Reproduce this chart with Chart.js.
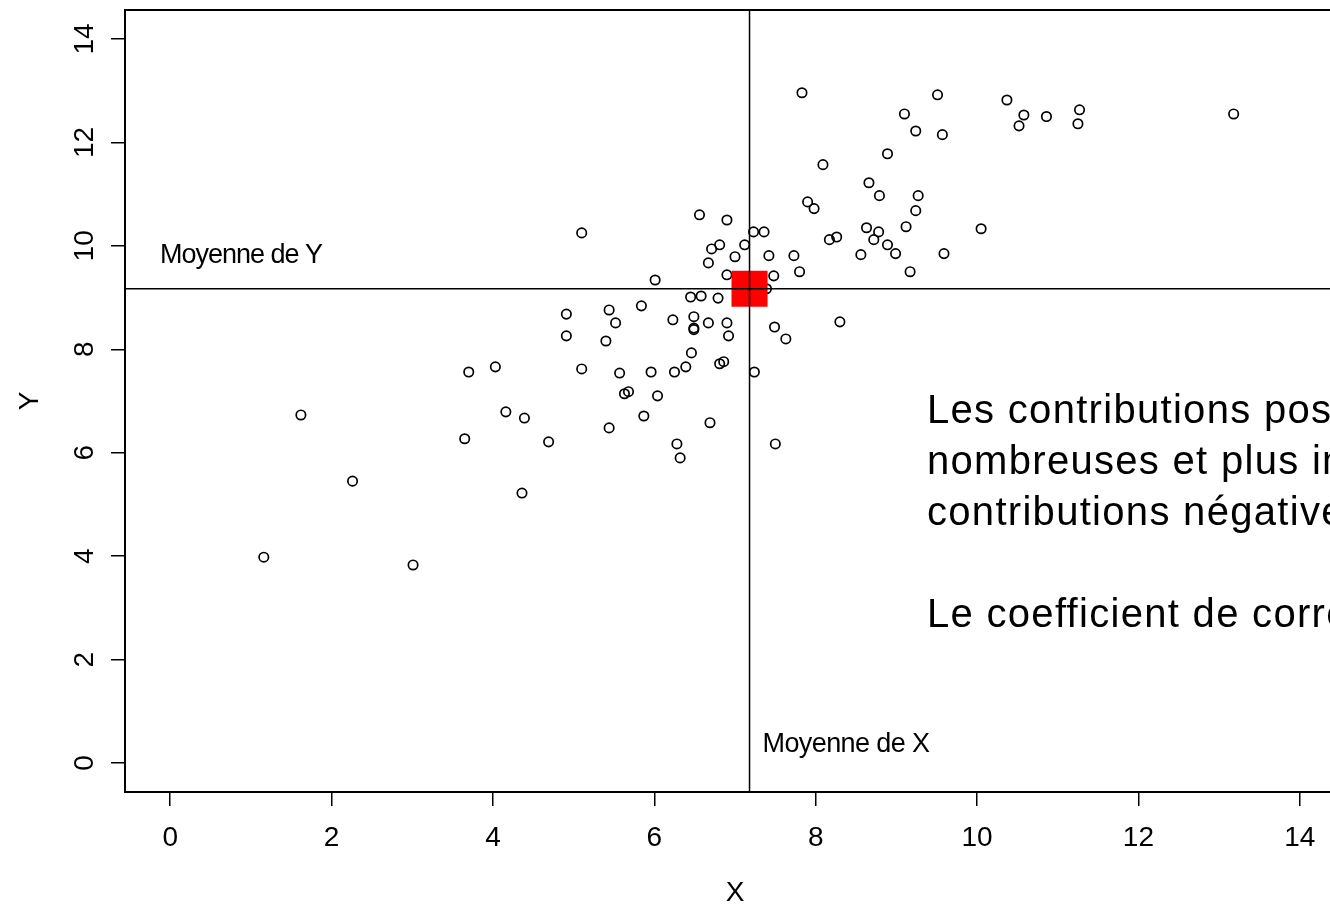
<!DOCTYPE html>
<html>
<head>
<meta charset="utf-8">
<script src="https://cdn.jsdelivr.net/npm/chart.js@4.4.0/dist/chart.umd.min.js"></script>
<style>
  html, body { margin: 0; padding: 0; overflow: hidden; background: #fff; }
  #wrap { width: 1330px; height: 906px; overflow: hidden; }
  canvas { display: block; }
</style>
</head>
<body>
<div id="wrap"><canvas id="nuage" width="1360" height="906"></canvas></div>
<script>
// nuage de points (X, Y)
const xValues = [
  1.16, 1.62, 2.26, 3.01, 3.65, 3.70, 4.03, 4.16, 4.36, 4.39,
  4.69, 4.91, 4.91, 5.10, 5.10, 5.40, 5.44, 5.44, 5.52, 5.57,
  5.63, 5.68, 5.84, 5.87, 5.96, 6.01, 6.04, 6.23, 6.25, 6.28,
  6.32, 6.39, 6.45, 6.46, 6.49, 6.49, 6.49, 6.56, 6.58, 6.67,
  6.69, 6.67, 6.71, 6.79, 6.81, 6.81, 6.86, 6.90, 6.90, 6.92,
  6.90, 7.00, 7.12, 7.23, 7.24, 7.36, 7.39, 7.42, 7.48, 7.49,
  7.50, 7.63, 7.73, 7.80, 7.83, 7.90, 7.98, 8.09, 8.17, 8.26,
  8.30, 8.56, 8.63, 8.66, 8.72, 8.78, 8.79, 8.89, 8.89, 8.99,
  9.10, 9.12, 9.17, 9.24, 9.24, 9.27, 9.51, 9.57, 9.59, 10.05,
  10.37, 10.52, 10.58, 10.86, 11.25, 11.27, 13.18
]
const yValues = [
  3.98, 6.73, 5.45, 3.83, 6.27, 7.56, 7.66, 6.79, 5.22, 6.67,
  6.21, 8.68, 8.26, 10.25, 7.62, 8.16, 8.76, 6.48, 8.51, 7.54,
  7.14, 7.18, 8.84, 6.71, 7.56, 9.34, 7.10, 8.57, 7.56, 6.17,
  5.90, 7.66, 9.01, 7.93, 8.63, 8.41, 8.38, 10.60, 9.03, 8.51,
  6.58, 9.67, 9.94, 8.99, 10.02, 7.72, 7.76, 10.50, 8.51, 8.26,
  9.44, 9.79, 10.02, 10.27, 7.56, 10.27, 9.17, 9.81, 9.42, 8.43,
  6.17, 8.20, 9.81, 9.50, 12.96, 10.85, 10.72, 11.57, 10.12, 10.17,
  8.53, 9.83, 10.35, 11.22, 10.12, 10.27, 10.97, 10.02, 11.78, 9.85,
  12.55, 10.37, 9.50, 12.22, 10.68, 10.97, 12.92, 12.15, 9.85, 10.33,
  12.82, 12.32, 12.53, 12.50, 12.36, 12.63, 12.55
]
const meanX = 7.18
const meanY = 9.17
const axisTicks = [0, 2, 4, 6, 8, 10, 12, 14]
const axisMin = -0.56
const axisMax = 14.56
const noteLines = [
  "Les contributions positives sont plus",
  "nombreuses et plus importantes que les",
  "contributions négatives.",
  "",
  "Le coefficient de corrélation est positif."
]

const points = xValues.map((x, i) => ({ x: x, y: yValues[i] }))
const font = "'Liberation Sans', Arial, sans-serif"

// cadre, graduations de Y et textes
const decor = {
  id: "decor",
  afterDraw(chart) {
    const { ctx, chartArea: a, scales } = chart
    ctx.save()
    ctx.strokeStyle = "black"
    ctx.lineWidth = 2
    ctx.strokeRect(a.left, a.top, a.right - a.left, a.bottom - a.top)

    ctx.fillStyle = "black"
    ctx.font = "28px " + font
    ctx.textAlign = "center"
    ctx.textBaseline = "middle"
    scales.y.ticks.forEach(t => {
      ctx.save()
      ctx.translate(a.left - 40, scales.y.getPixelForValue(t.value))
      ctx.rotate(-Math.PI / 2)
      ctx.fillText(String(t.value), 0, 0)
      ctx.restore()
    })

    const mx = scales.x.getPixelForValue(meanX)
    const my = scales.y.getPixelForValue(meanY)
    ctx.textAlign = "left"
    ctx.textBaseline = "alphabetic"
    ctx.font = "27px " + font
    ctx.letterSpacing = "-1px"
    ctx.fillText("Moyenne de Y", a.left + 35, my - 26)
    ctx.letterSpacing = "-0.6px"
    ctx.fillText("Moyenne de X", mx + 13, a.bottom - 40)

    ctx.font = "40px " + font
    ctx.letterSpacing = "1.3px"
    noteLines.forEach((line, i) => {
      ctx.fillText(line, a.left + 802, a.top + 413 + i * 51)
    })
    ctx.letterSpacing = "0px"
    ctx.restore()
  }
}

const keepTicks = function (scale) {
  scale.ticks = axisTicks.map(v => ({ value: v }))
}

new Chart(document.getElementById("nuage"), {
  type: "scatter",
  plugins: [decor],
  data: {
    datasets: [
      {
        data: [{ x: meanX, y: axisMin }, { x: meanX, y: axisMax }],
        showLine: true, borderColor: "black", borderWidth: 1.5, pointRadius: 0
      },
      {
        data: [{ x: axisMin, y: meanY }, { x: axisMax, y: meanY }],
        showLine: true, borderColor: "black", borderWidth: 1.5, pointRadius: 0
      },
      {
        data: [{ x: meanX, y: meanY }],
        pointStyle: "rect", pointRadius: 25.5, backgroundColor: "#ff0000", borderWidth: 0
      },
      {
        data: points,
        pointStyle: "circle", pointRadius: 4.7, borderColor: "black",
        borderWidth: 1.7, backgroundColor: "rgba(0,0,0,0)"
      }
    ]
  },
  options: {
    responsive: false,
    animation: false,
    events: [],
    layout: { autoPadding: false, padding: { top: 10, right: 15, left: 0, bottom: 0 } },
    plugins: { legend: { display: false }, tooltip: { enabled: false } },
    scales: {
      x: {
        type: "linear", min: axisMin, max: axisMax,
        afterBuildTicks: keepTicks,
        afterFit(scale) { scale.height = 114 },
        border: { display: false },
        grid: { drawOnChartArea: false, drawTicks: true, tickLength: 14, color: "black", lineWidth: 1.5 },
        ticks: { color: "black", padding: 15, maxRotation: 0, font: { family: font, size: 28 } },
        title: { display: true, text: "X", color: "black", padding: { top: 0, bottom: -1 }, font: { family: font, size: 28, lineHeight: 1 } }
      },
      y: {
        type: "linear", min: axisMin, max: axisMax,
        afterBuildTicks: keepTicks,
        afterFit(scale) { scale.width = 125 },
        border: { display: false },
        grid: { drawOnChartArea: false, drawTicks: true, tickLength: 14, color: "black", lineWidth: 1.5 },
        ticks: { display: false },
        title: { display: true, text: "Y", color: "black", padding: { top: 16, bottom: 0 }, font: { family: font, size: 28, lineHeight: 1 } }
      }
    }
  }
})
</script>
</body>
</html>
